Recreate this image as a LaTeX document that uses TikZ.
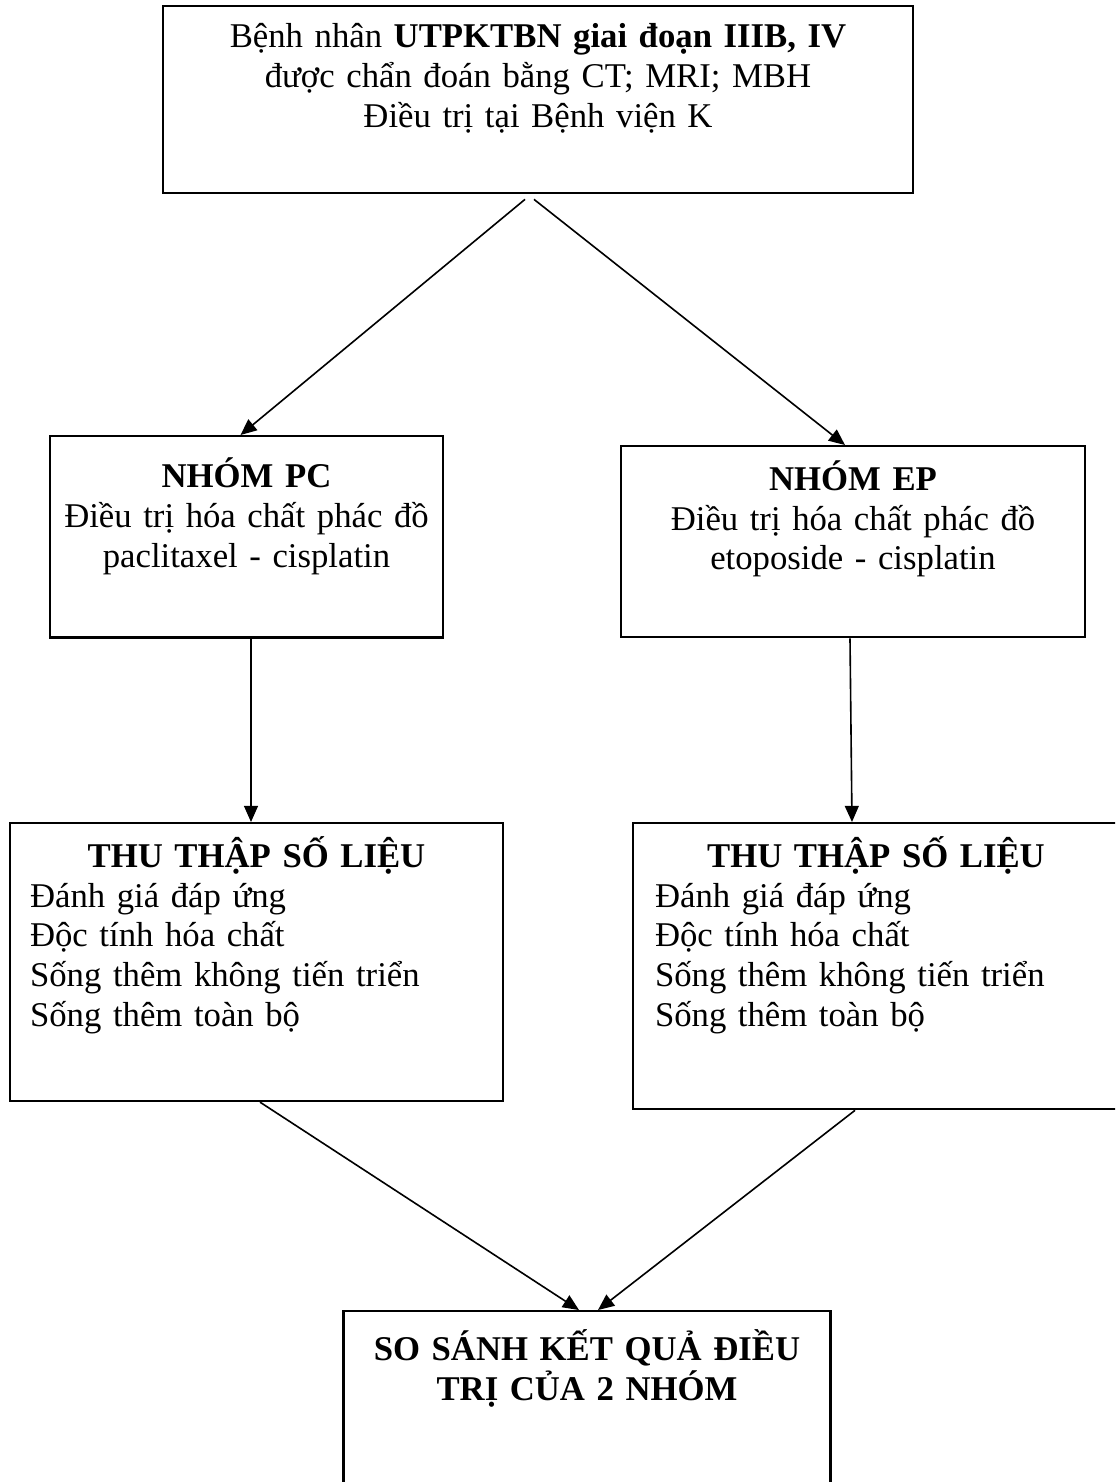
\documentclass[tikz,border=0pt]{standalone}
\usepackage{fontspec}
\setmainfont{Liberation Serif}
\usetikzlibrary{arrows.meta}

\begin{document}
\begin{tikzpicture}[x=0.4032pt, y=-0.4032pt,
    box/.style={draw, rectangle, line width=0.95pt, anchor=north, inner xsep=0pt, inner ysep=0pt, font=\fontsize{14}{16.1}\selectfont},
    arr/.style={-{Triangle[length=6.5pt,width=5.6pt]}, line width=0.65pt}]
            % Study flow: two chemotherapy groups
            \useasboundingbox (0,0) rectangle (1115,1482);
            \clip (0,0) rectangle (1115,1482);
            \node[box, text width=302.4pt, align=center, text height=16.7pt, text depth=58.7pt] (patient) at (538,5) {Bệnh nhân \textbf{UTPKTBN giai đoạn IIIB, IV}\\được chẩn đoán bằng CT; MRI; MBH\\Điều trị tại Bệnh viện K};
            \node[box, text width=158.5pt, align=center, text height=20.6pt, text depth=60.5pt] (pc) at (246.5,435) {\textbf{NHÓM PC}\\Điều trị hóa chất phác đồ\\paclitaxel - cisplatin};
            \node[box, text width=187.1pt, align=center, text height=17.7pt, text depth=59.3pt] (ep) at (853,445) {\textbf{NHÓM EP}\\Điều trị hóa chất phác đồ\\etoposide - cisplatin};
            \node[box, text width=182.6pt, inner xsep=8.1pt, align=left, text height=17.7pt, text depth=94.3pt] (datapc) at (256.5,822) {\makebox[\linewidth]{\textbf{THU THẬP SỐ LIỆU}}\\Đánh giá đáp ứng\\Độc tính hóa chất\\Sống thêm không tiến triển\\Sống thêm toàn bộ};
            \node[box, text width=178.2pt, inner xsep=8.9pt, align=left, text height=17.7pt, text depth=97.6pt] (dataep) at (876,822) {\makebox[\linewidth]{\textbf{THU THẬP SỐ LIỆU}}\\Đánh giá đáp ứng\\Độc tính hóa chất\\Sống thêm không tiến triển\\Sống thêm toàn bộ};
            \node[box, text width=196.4pt, align=center, text height=19.8pt, text depth=80pt] (compare) at (587,1310) {\bfseries SO SÁNH KẾT QUẢ ĐIỀU\\TRỊ CỦA 2 NHÓM};

            \draw[arr] ([shift={(-13,5)}]patient.south) -- ([shift={(-6,0)}]pc.north);
            \draw[arr] ([shift={(-4,5)}]patient.south) -- ([shift={(-8,0)}]ep.north);
            \draw[arr] ([shift={(4.5,0)}]pc.south) -- ([shift={(-5.5,0)}]datapc.north);
            \draw[arr] ([shift={(-3,0)}]ep.south) -- ([shift={(-24,0)}]dataep.north);
            \draw[arr] ([shift={(3.5,0)}]datapc.south) -- ([shift={(-8,0)}]compare.north);
            \draw[arr] ([shift={(-21,0)}]dataep.south) -- ([shift={(11,0)}]compare.north);
        \end{tikzpicture}
\end{document}
